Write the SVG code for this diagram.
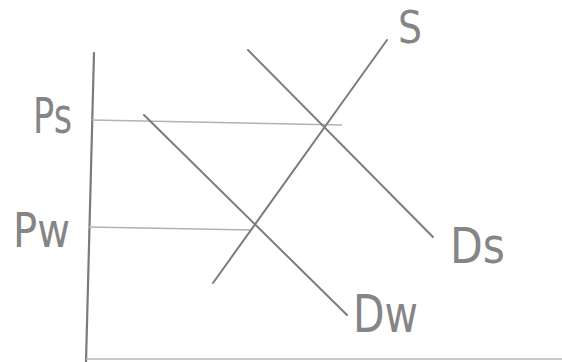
<svg xmlns="http://www.w3.org/2000/svg" width="562" height="362" viewBox="0 0 562 362">
<style>
.ax{stroke:#7a7a7a;stroke-width:2.2;fill:none;stroke-linecap:round}
.bx{stroke:#b4b4b4;stroke-width:1.6;fill:none}
.cv{stroke:#7c7c7c;stroke-width:2;fill:none;stroke-linecap:round}
.gd{stroke:#a9b6ba;stroke-width:1.4;fill:none}
.lb{font-family:"DejaVu Sans","Liberation Sans",sans-serif;fill:#858585}
</style>
<rect width="562" height="362" fill="#fff"/>
<g id="connectors">
<line class="ax" x1="94" y1="53" x2="86" y2="362"/>
<line class="bx" x1="86" y1="359" x2="562" y2="359"/>
<line class="gd" x1="92" y1="120" x2="342" y2="125"/>
<line class="gd" x1="88" y1="227" x2="252" y2="230"/>
<line class="cv" x1="213" y1="283" x2="387" y2="40"/>
<line class="cv" x1="248" y1="50" x2="433" y2="237"/>
<line class="cv" x1="144" y1="115" x2="347" y2="315"/>
</g>
<g id="Ps"><text class="lb" x="33" y="133" font-size="50" textLength="39" lengthAdjust="spacingAndGlyphs">Ps</text></g>
<g id="Pw"><text class="lb" x="13" y="247" font-size="48" textLength="57" lengthAdjust="spacingAndGlyphs">Pw</text></g>
<g id="S"><text class="lb" x="398" y="43" font-size="44" textLength="24" lengthAdjust="spacingAndGlyphs">S</text></g>
<g id="Ds"><text class="lb" x="450" y="263" font-size="50" textLength="55" lengthAdjust="spacingAndGlyphs">Ds</text></g>
<g id="Dw"><text class="lb" x="353" y="332" font-size="52" textLength="65" lengthAdjust="spacingAndGlyphs">Dw</text></g>
</svg>
